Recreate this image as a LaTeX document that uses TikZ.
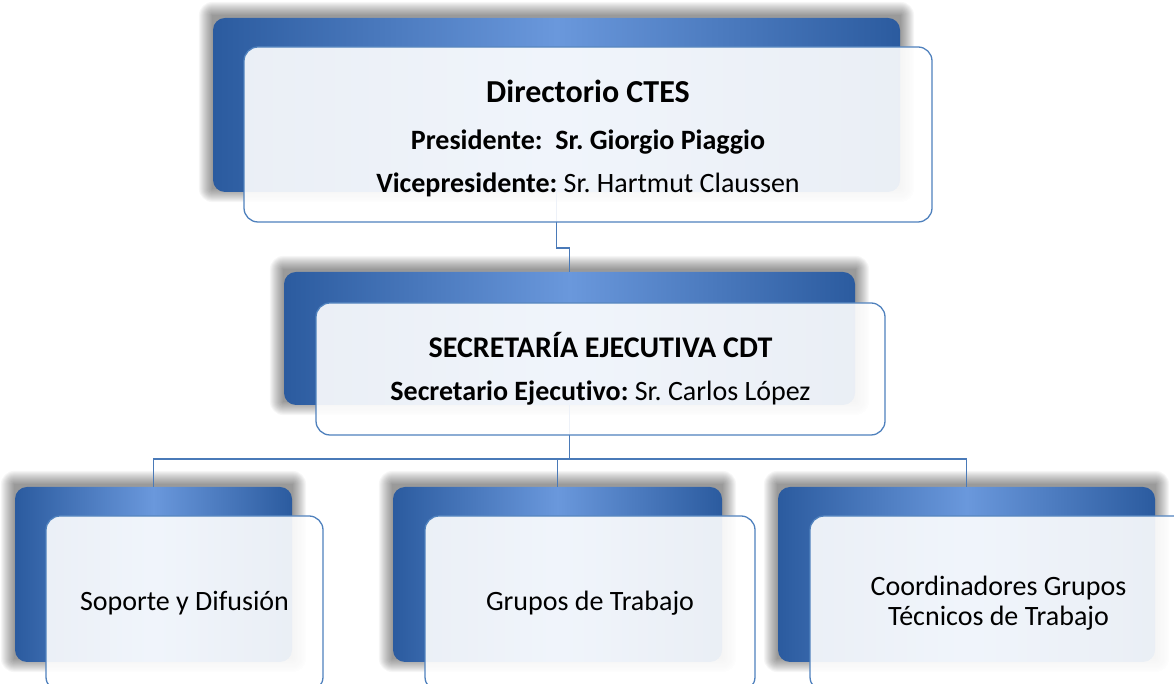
\documentclass[tikz,border=0pt]{standalone}
\usepackage{fontspec}
\setmainfont[Ligatures={NoCommon}]{Carlito}
\usetikzlibrary{positioning}

\definecolor{backdark}{HTML}{2B5B9F}
\definecolor{backlight}{HTML}{6A98DC}
\definecolor{frameblue}{HTML}{4F81BD}
\definecolor{linkblue}{HTML}{4A7AB8}

\pgfdeclarelayer{background}
\pgfsetlayers{background,main}

\tikzset{
  backbox/.style={rectangle, rounded corners=12pt, inner sep=0pt,
    left color=backdark, right color=backdark, middle color=backlight},
  frontbox/.style={rectangle, rounded corners=14pt, draw=frameblue, line width=1.3pt,
    fill=white, fill opacity=0.9, text opacity=1, inner sep=0pt, align=center},
  link/.style={draw=linkblue, line width=1.5pt}
}

\frenchspacing
\begin{document}
\begin{tikzpicture}[x=1pt,y=1pt]
  \useasboundingbox (0,0) rectangle (1174,684);

  % back boxes
  \node[backbox, minimum width=687pt, minimum height=174pt] (dirBack) at (556.5,579) {};
  \node[backbox, minimum width=571pt, minimum height=133pt] (secBack) at (569.5,345.5) {};
  \node[backbox, minimum width=277pt, minimum height=175pt] (supBack) at (153.5,109.5) {};
  \node[backbox, minimum width=329pt, minimum height=175pt] (gruBack) at (557.5,109.5) {};
  \node[backbox, minimum width=377pt, minimum height=175pt] (cooBack) at (966.5,109.5) {};

  % soft shadows
  \begin{pgfonlayer}{background}
    \foreach \b in {dirBack,secBack,supBack,gruBack,cooBack}
      \foreach \i [evaluate=\i as \r using 12+\i] in {1,...,14}
        \fill[black, opacity=0.035, rounded corners=\r pt]
          ([shift={(-\i,\i+2)}]\b.north west) rectangle ([shift={(\i,-\i+4)}]\b.south east);
  \end{pgfonlayer}

  % connectors
  \draw[link] (dirBack.south) |- ([yshift=24pt]secBack.north) -- (secBack.north);
  \foreach \n in {supBack,gruBack,cooBack}
    \draw[link] (secBack.south) |- ([yshift=28pt]\n.north) -- (\n.north);

  % front boxes
  \node[frontbox, minimum width=688pt, minimum height=175pt] (dirFront) at (588,549.5) {};
  \node[align=center, font=\fontsize{28}{43}\selectfont] (dirText)
    at ([yshift=-4pt]dirFront.center)
    {{\fontsize{32}{43}\selectfont\bfseries Directorio CTES}\\[4pt]
     \textbf{Presidente:\ \ Sr. Giorgio Piaggio}\\
     \textbf{Vicepresidente:} Sr. Hartmut Claussen};
  \node[frontbox, minimum width=569pt, minimum height=132pt,
        font=\fontsize{28}{43}\selectfont] (secFront) at (600.5,315)
    {{\fontsize{30}{43}\selectfont\bfseries SECRETARÍA EJECUTIVA CDT}\\
     \textbf{Secretario Ejecutivo:} Sr. Carlos López};
  \node[frontbox, minimum width=277pt, minimum height=175pt,
        font=\fontsize{28}{30}\selectfont] (supFront) at (184.5,80.5) {Soporte y Difusión};
  \node[frontbox, minimum width=330pt, minimum height=175pt,
        font=\fontsize{28}{30}\selectfont] (gruFront) at (590,80.5) {Grupos de Trabajo};
  \node[frontbox, minimum width=377pt, minimum height=175pt,
        font=\fontsize{28}{30}\selectfont] (cooFront) at (998.5,80.5)
    {Coordinadores Grupos\\Técnicos de Trabajo};
\end{tikzpicture}
\end{document}
